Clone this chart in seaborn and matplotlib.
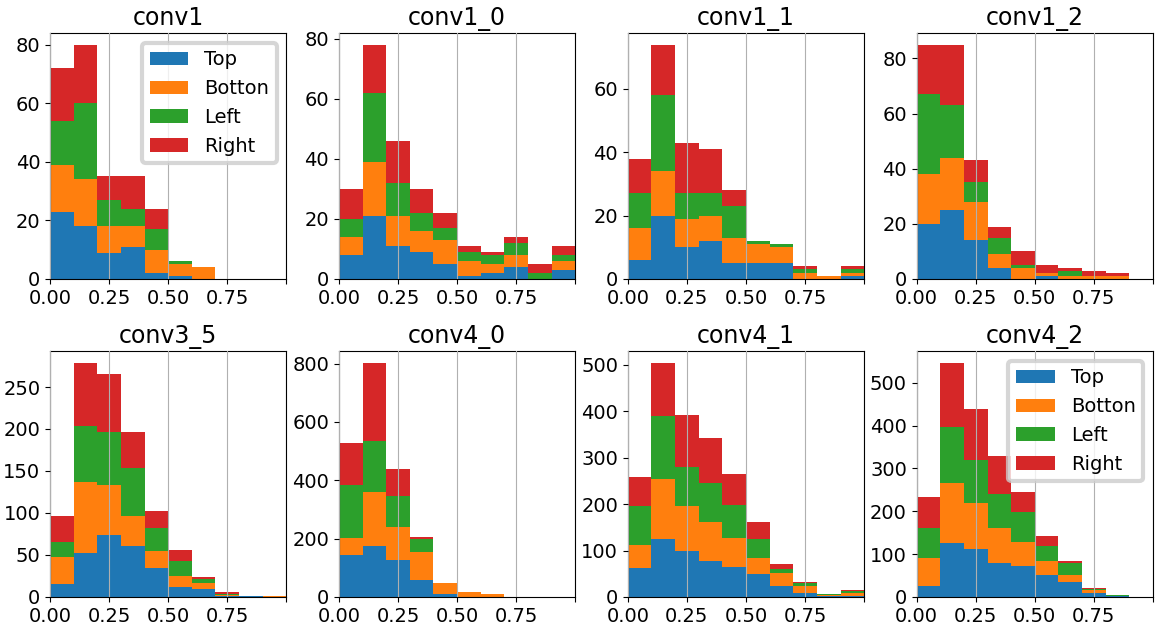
import numpy as np
import pandas as pd
import matplotlib
matplotlib.use("Agg")
import matplotlib.pyplot as plt
from matplotlib.patches import Patch
import seaborn as sns

sides = ["Top", "Botton", "Left", "Right"]
colors = ["#1f77b4", "#ff7f0e", "#2ca02c", "#d62728"]
bin_centers = [0.05, 0.15, 0.25, 0.35, 0.45, 0.55, 0.65, 0.75, 0.85, 0.95]

# counts per bin, rows: Top, Botton, Left, Right
conv1 = [
    [23, 18, 9, 11, 2, 1, 0, 0, 0, 0],
    [16, 16, 9, 7, 8, 4, 4, 0, 0, 0],
    [15, 26, 9, 6, 7, 1, 0, 0, 0, 0],
    [18, 20, 8, 11, 7, 0, 0, 0, 0, 0],
]
conv1_0 = [
    [8, 21, 11, 9, 5, 1, 2, 4, 0, 3],
    [6, 18, 10, 7, 8, 5, 3, 4, 0, 3],
    [6, 23, 11, 6, 4, 3, 3, 4, 2, 2],
    [10, 16, 14, 8, 5, 2, 1, 2, 3, 3],
]
conv1_1 = [
    [6, 20, 10, 12, 5, 5, 5, 0, 0, 1],
    [10, 14, 9, 8, 8, 6, 5, 2, 1, 1],
    [11, 24, 8, 7, 10, 1, 1, 1, 0, 1],
    [11, 16, 16, 14, 5, 0, 0, 1, 0, 1],
]
conv1_2 = [
    [20, 25, 14, 4, 0, 1, 0, 0, 0, 0],
    [18, 19, 14, 5, 4, 1, 1, 1, 1, 0],
    [29, 19, 7, 6, 1, 0, 2, 0, 0, 0],
    [18, 22, 8, 4, 5, 3, 1, 2, 1, 0],
]
conv3_5 = [
    [15, 52, 74, 61, 34, 12, 9, 1, 1, 0],
    [32, 85, 59, 35, 21, 13, 7, 1, 0, 1],
    [19, 66, 63, 58, 27, 18, 5, 2, 0, 0],
    [30, 76, 69, 42, 20, 13, 3, 2, 0, 0],
]
conv4_0 = [
    [145, 176, 125, 59, 11, 0, 0, 0, 0, 0],
    [58, 182, 113, 96, 38, 18, 11, 0, 0, 0],
    [179, 178, 109, 42, 0, 0, 0, 0, 0, 0],
    [144, 267, 90, 10, 0, 0, 0, 0, 0, 0],
]
conv4_1 = [
    [63, 124, 100, 78, 65, 50, 24, 9, 1, 3],
    [48, 131, 97, 84, 63, 33, 28, 15, 3, 6],
    [84, 134, 84, 84, 71, 41, 9, 5, 2, 3],
    [64, 116, 112, 97, 65, 38, 11, 3, 0, 2],
]
conv4_2 = [
    [26, 125, 111, 80, 73, 52, 36, 10, 1, 0],
    [66, 140, 109, 82, 56, 33, 16, 7, 1, 0],
    [68, 131, 99, 79, 70, 33, 28, 2, 3, 0],
    [74, 151, 119, 89, 47, 25, 5, 1, 0, 0],
]

panels = [
    ("conv1", conv1), ("conv1_0", conv1_0), ("conv1_1", conv1_1), ("conv1_2", conv1_2),
    ("conv3_5", conv3_5), ("conv4_0", conv4_0), ("conv4_1", conv4_1), ("conv4_2", conv4_2),
]
legend_panels = {"conv1", "conv4_2"}

plt.rcParams["font.family"] = ["DejaVu Sans"]
fig, axes = plt.subplots(2, 4, figsize=(11.58, 6.33), dpi=100)
fig.subplots_adjust(left=0.0432, right=0.9957, top=0.948, bottom=0.057,
                    wspace=0.222, hspace=0.293)

# seaborn stacks the first hue level on top, so pass the order reversed
stack_order = sides[::-1]
stack_colors = colors[::-1]

for ax, (name, counts) in zip(axes.flat, panels):
    rows = []
    for side, vals in zip(sides, counts):
        for c, v in zip(bin_centers, vals):
            rows.append({"x": c, "w": v, "side": side})
    df = pd.DataFrame(rows)
    sns.histplot(data=df, x="x", weights="w", hue="side", hue_order=stack_order,
                 palette=stack_colors, multiple="stack", bins=10, binrange=(0, 1),
                 alpha=1, linewidth=0, legend=False, ax=ax)
    ax.set_xlim(0, 1)
    ax.set_xticks([0, 0.25, 0.5, 0.75, 1.0])
    ax.set_xticklabels(["0.00", "0.25", "0.50", "0.75", ""])
    ax.set_xlabel("")
    ax.set_ylabel("")
    ax.set_title(name, fontsize=17)
    ax.tick_params(labelsize=14)
    ax.set_axisbelow(False)
    ax.grid(axis="x", color="#b0b0b0", linewidth=0.8)
    if name in legend_panels:
        handles = [Patch(facecolor=c, label=s) for s, c in zip(sides, colors)]
        leg = ax.legend(handles=handles, loc="upper right", fontsize=14)
        leg.get_frame().set_linewidth(3)

fig.savefig("out.png", dpi=100)
